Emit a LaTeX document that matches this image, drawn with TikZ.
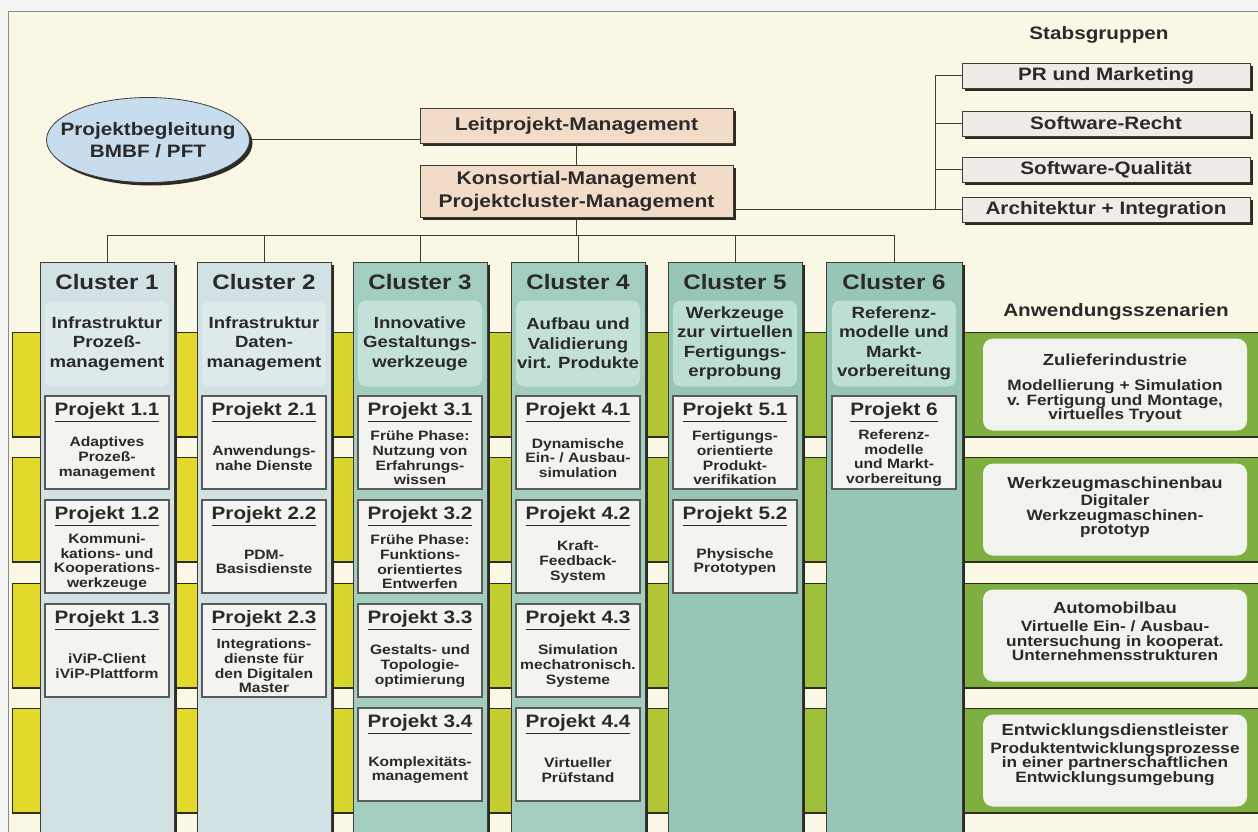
\documentclass[tikz,border=0pt]{standalone}
\usepackage{fontspec}
\setmainfont{Liberation Sans}[FakeStretch=1.15]
\usetikzlibrary{shapes.geometric,shadows,calc}

\definecolor{outerC}{HTML}{F4F4F2}
\definecolor{cream}{HTML}{FBF7E5}
\definecolor{frameC}{HTML}{8A8A86}
\definecolor{peach}{HTML}{F2DCC8}
\definecolor{stabF}{HTML}{EFECE8}
\definecolor{ellF}{HTML}{C7DCEC}
\definecolor{colA}{HTML}{D1E1E4}
\definecolor{colAd}{HTML}{DDE9EB}
\definecolor{colB}{HTML}{A3CDBF}
\definecolor{colBd}{HTML}{C4E1D9}
\definecolor{colC}{HTML}{98C6B6}
\definecolor{colCd}{HTML}{BDDED4}
\definecolor{pF}{HTML}{F3F3F0}
\definecolor{pLine}{HTML}{5A5A58}
\definecolor{scenF}{HTML}{F1F4EE}
\definecolor{bandY}{HTML}{E3D92A}
\definecolor{bandG}{HTML}{8CB83D}
\definecolor{bandR}{HTML}{7FAF40}
\definecolor{bandLine}{HTML}{2E2E1E}
\definecolor{lineC}{HTML}{3C3C3A}
\definecolor{shadowC}{HTML}{2C2A24}
\definecolor{txtC}{HTML}{2A2A2A}

\newcommand\fsz[2]{\fontsize{#1}{#2}\selectfont}
\newcommand\projbox[5]{%
  \node[pbox] (#1) at (#2,#3+46.5) {};
  \node[ptitle] (#1t) at (#2,#3+16) {\underline{#4}};
  \node[pdesc] (#1d) at (#2,#3+62) {#5};
}

\tikzset{
  conn/.style={draw=lineC, line width=1pt},
  shad/.style={drop shadow={shadow xshift=3pt, shadow yshift=-3pt, fill=shadowC, opacity=1}},
  mgmt/.style={draw=lineC, line width=0.8pt, fill=peach, shad, minimum width=313pt, text=txtC, font=\bfseries\fsz{18.3}{23}, align=center, inner sep=0pt},
  stab/.style={draw=lineC, line width=0.8pt, fill=stabF, shad, minimum width=288pt, minimum height=25pt, text=txtC, font=\bfseries\fsz{18}{22}, inner sep=0pt},
  ell/.style={ellipse, draw=lineC, line width=0.8pt, fill=ellF, shad, minimum width=203pt, minimum height=85pt, inner sep=0pt},
  elltext/.style={text=txtC, font=\bfseries\fsz{18}{22}, align=center},
  column/.style={draw=lineC, line width=0.8pt, anchor=north, minimum height=620pt, inner sep=0pt, shad},
  descbox/.style={rounded corners=8pt, minimum width=124pt, minimum height=86pt, inner sep=0pt},
  ctitle/.style={text=txtC, font=\bfseries\fsz{21}{24}},
  cdesc/.style={text=txtC, font=\bfseries\fsz{16.2}{19.5}, align=center},
  pbox/.style={draw=pLine, line width=1.2pt, fill=pF, minimum width=124pt, minimum height=93pt, inner sep=0pt},
  ptitle/.style={text=txtC, font=\bfseries\fsz{18}{20}},
  pdesc/.style={text=txtC, font=\bfseries\fsz{13.6}{14.6}, align=center},
  scen/.style={fill=scenF, rounded corners=10pt, minimum width=264pt, minimum height=92pt, inner sep=0pt},
  stitle/.style={text=txtC, font=\bfseries\fsz{16}{18}},
  sdesc/.style={text=txtC, font=\bfseries\fsz{15}{14.5}, align=center},
  head/.style={text=txtC, font=\bfseries\fsz{18}{20}},
}

\begin{document}
\begin{tikzpicture}[x=1pt,y=-1pt]
\useasboundingbox (0,0) rectangle (1258,832);
\clip (0,0) rectangle (1258,832);
\fill[outerC] (0,0) rectangle (1258,832);
\filldraw[fill=cream, draw=frameC, line width=1pt] (8,12) rectangle (1270,850);

% bands
\foreach \t/\b in {332/437,457/562,583/688,708/813}{
  \fill[bandY] (12,\t) rectangle (250,\b);
  \shade[left color=bandY, right color=bandG] (250,\t) rectangle (966,\b);
  \fill[bandR] (966,\t) rectangle (1258,\b);
  \draw[line width=0.8pt, draw=bandLine] (12,\b) -- (12,\t) -- (1258,\t);
  \draw[line width=2.5pt, draw=bandLine] (12,\b) -- (1258,\b);
}

% cluster columns
\foreach \n/\cx/\w/\f/\d in {1/107/134pt/colA/colAd,2/264/134pt/colA/colAd,3/420/134pt/colB/colBd,4/578/134pt/colB/colBd,5/735/134pt/colC/colCd,6/894/136pt/colC/colCd}{
  \node[column, fill=\f, minimum width=\w] (c\n) at (\cx,262) {};
  \node[descbox, fill=\d] (d\n) at (\cx,343.5) {};
  \node[ctitle] (t\n) at (\cx,282) {Cluster \n};
}
\node[cdesc] at (d1) {Infrastruktur\\Prozeß-\\management};
\node[cdesc] at (d2) {Infrastruktur\\Daten-\\management};
\node[cdesc] at (d3) {Innovative\\Gestaltungs-\\werkzeuge};
\node[cdesc] at (d4) {Aufbau und\\Validierung\\virt. Produkte};
\node[cdesc] at (d5) {Werkzeuge\\zur virtuellen\\Fertigungs-\\erprobung};
\node[cdesc] at (d6) {Referenz-\\modelle und\\Markt-\\vorbereitung};

% projects
\projbox{p11}{107}{396}{Projekt 1.1}{Adaptives\\Prozeß-\\management}
\projbox{p12}{107}{500}{Projekt 1.2}{Kommuni-\\kations- und\\Kooperations-\\werkzeuge}
\projbox{p13}{107}{604}{Projekt 1.3}{iViP-Client\\iViP-Plattform}
\projbox{p21}{264}{396}{Projekt 2.1}{Anwendungs-\\nahe Dienste}
\projbox{p22}{264}{500}{Projekt 2.2}{PDM-\\Basisdienste}
\projbox{p23}{264}{604}{Projekt 2.3}{Integrations-\\dienste für\\den Digitalen\\Master}
\projbox{p31}{420}{396}{Projekt 3.1}{Frühe Phase:\\Nutzung von\\Erfahrungs-\\wissen}
\projbox{p32}{420}{500}{Projekt 3.2}{Frühe Phase:\\Funktions-\\orientiertes\\Entwerfen}
\projbox{p33}{420}{604}{Projekt 3.3}{Gestalts- und\\Topologie-\\optimierung}
\projbox{p34}{420}{708}{Projekt 3.4}{Komplexitäts-\\management}
\projbox{p41}{578}{396}{Projekt 4.1}{Dynamische\\Ein- / Ausbau-\\simulation}
\projbox{p42}{578}{500}{Projekt 4.2}{Kraft-\\Feedback-\\System}
\projbox{p43}{578}{604}{Projekt 4.3}{Simulation\\mechatronisch.\\Systeme}
\projbox{p44}{578}{708}{Projekt 4.4}{Virtueller\\Prüfstand}
\projbox{p51}{735}{396}{Projekt 5.1}{Fertigungs-\\orientierte\\Produkt-\\verifikation}
\projbox{p52}{735}{500}{Projekt 5.2}{Physische\\Prototypen}
\projbox{p6}{894}{396}{Projekt 6}{Referenz-\\modelle\\und Markt-\\vorbereitung}

% scenarios
\node[head] (az) at (1116,312) {Anwendungsszenarien};
\node[scen] (sz1) at (1115,384.5) {};
\node[stitle] at (1115,360) {Zulieferindustrie};
\node[sdesc] at (1115,401.5) {Modellierung + Simulation\\v. Fertigung und Montage,\\virtuelles Tryout};
\node[scen] (sz2) at (1115,509.5) {};
\node[stitle] at (1115,484) {Werkzeugmaschinenbau};
\node[sdesc] at (1115,516.5) {Digitaler\\Werkzeugmaschinen-\\prototyp};
\node[scen] (sz3) at (1115,635.5) {};
\node[stitle] at (1115,608) {Automobilbau};
\node[sdesc] at (1115,641) {Virtuelle Ein- / Ausbau-\\untersuchung in kooperat.\\Unternehmensstrukturen};
\node[scen] (sz4) at (1115,760.5) {};
\node[stitle] at (1115,731) {Entwicklungsdienstleister};
\node[sdesc] at (1115,764) {Produktentwicklungsprozesse\\in einer partnerschaftlichen\\Entwicklungsumgebung};

% management
\node[ell] (pb) at (148,140) {};
\node[elltext] (pbt) at (pb) {Projektbegleitung\\BMBF / PFT};
\node[mgmt, minimum height=35pt] (lm) at (576.5,125.5) {Leitprojekt-Management};
\node[mgmt, minimum height=52pt] (km) at (576.5,191) {Konsortial-Management\\Projektcluster-Management};

% Stabsgruppen
\node[head] (sg) at (1099,35) {Stabsgruppen};
\node[stab] (s1) at (1106,75.5) {PR und Marketing};
\node[stab] (s2) at (1106,123.5) {Software-Recht};
\node[stab] (s3) at (1106,169.5) {Software-Qualität};
\node[stab] (s4) at (1106,209.5) {Architektur + Integration};

% connectors
\draw[conn] (pb.east) -- (pb.east -| lm.west);
\draw[conn] (lm.south) -- (km.north);
\coordinate (busy) at (0,235);
\draw[conn] (km.south) -- (km.south |- busy);
\draw[conn] (c1.north) -- (c1.north |- busy) -- (c6.north |- busy) -- (c6.north);
\foreach \n in {2,3,4,5} \draw[conn] (c\n.north) -- (c\n.north |- busy);
\coordinate (spx) at (935,0);
\draw[conn] (s1.west) -- (s1.west -| spx) -- (s4.west -| spx);
\foreach \n in {2,3,4} \draw[conn] (s\n.west) -- (s\n.west -| spx);
\draw[conn] (km.east |- s4.west) -- (s4.west -| spx);
\end{tikzpicture}
\end{document}
